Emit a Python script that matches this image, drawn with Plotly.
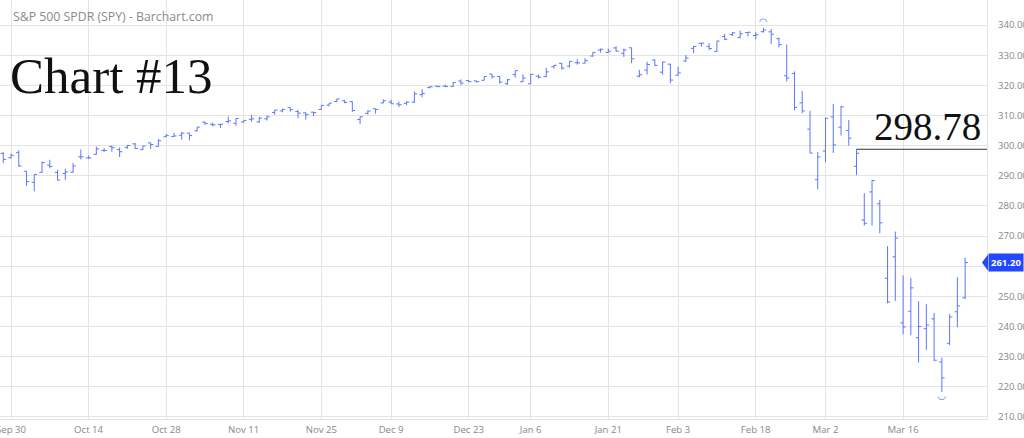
import plotly.graph_objects as go

dates = ["Sep 27", "Sep 30", "Oct 1", "Oct 2", "Oct 3", "Oct 4", "Oct 7", "Oct 8", "Oct 9", "Oct 10", "Oct 11",
         "Oct 14", "Oct 15", "Oct 16", "Oct 17", "Oct 18", "Oct 21", "Oct 22", "Oct 23", "Oct 24", "Oct 25",
         "Oct 28", "Oct 29", "Oct 30", "Oct 31", "Nov 1", "Nov 4", "Nov 5", "Nov 6", "Nov 7", "Nov 8",
         "Nov 11", "Nov 12", "Nov 13", "Nov 14", "Nov 15", "Nov 18", "Nov 19", "Nov 20", "Nov 21", "Nov 22",
         "Nov 25", "Nov 26", "Nov 27", "Nov 29", "Dec 2", "Dec 3", "Dec 4", "Dec 5", "Dec 6",
         "Dec 9", "Dec 10", "Dec 11", "Dec 12", "Dec 13", "Dec 16", "Dec 17", "Dec 18", "Dec 19", "Dec 20",
         "Dec 23", "Dec 24", "Dec 26", "Dec 27", "Dec 30", "Dec 31", "Jan 2", "Jan 3",
         "Jan 6", "Jan 7", "Jan 8", "Jan 9", "Jan 10", "Jan 13", "Jan 14", "Jan 15", "Jan 16", "Jan 17",
         "Jan 21", "Jan 22", "Jan 23", "Jan 24", "Jan 27", "Jan 28", "Jan 29", "Jan 30", "Jan 31",
         "Feb 3", "Feb 4", "Feb 5", "Feb 6", "Feb 7", "Feb 10", "Feb 11", "Feb 12", "Feb 13", "Feb 14",
         "Feb 18", "Feb 19", "Feb 20", "Feb 21", "Feb 24", "Feb 25", "Feb 26", "Feb 27", "Feb 28",
         "Mar 2", "Mar 3", "Mar 4", "Mar 5", "Mar 6", "Mar 9", "Mar 10", "Mar 11", "Mar 12", "Mar 13",
         "Mar 16", "Mar 17", "Mar 18", "Mar 19", "Mar 20", "Mar 23", "Mar 24", "Mar 25", "Mar 26"]

opens = [297.4, 295.97, 297.74, 291.50, 287.81, 291.14, 293.50, 291.11, 290.75, 291.18, 296.26,
         295.93, 297.10, 298.37, 299.68, 298.68, 299.42, 300.58, 298.73, 300.91, 299.74,
         302.94, 303.00, 303.43, 304.13, 304.92, 307.80, 307.06, 307.03, 307.99, 307.39,
         307.84, 308.75, 307.84, 308.90, 311.00, 311.52, 312.68, 311.29, 310.86, 311.09,
         311.98, 313.41, 314.61, 314.86, 314.59, 308.65, 310.70, 312.23, 314.12,
         314.44, 313.82, 314.03, 314.43, 316.90, 319.24, 319.73, 319.72, 319.58, 321.42,
         321.59, 321.47, 321.65, 323.74, 322.95, 320.53, 323.54, 321.16,
         320.49, 323.02, 322.94, 326.16, 327.29, 326.39, 327.47, 327.35, 329.71, 331.70,
         330.89, 332.40, 330.63, 332.44, 323.03, 325.06, 328.38, 324.36, 327.00,
         323.35, 328.07, 332.27, 333.91, 332.82, 331.23, 336.17, 336.83, 335.86, 337.51,
         336.51, 337.79, 337.74, 335.47, 323.14, 323.94, 314.18, 305.46, 288.70,
         298.21, 309.50, 306.12, 304.98, 293.15, 275.30, 284.64, 280.70, 256.00, 263.09,
         241.18, 245.04, 236.25, 239.25, 242.53, 228.19, 234.42, 244.87, 249.52]

highs = [297.9, 297.34, 298.46, 291.50, 290.45, 294.69, 295.29, 291.98, 292.30, 294.21, 298.74,
         296.67, 299.71, 299.17, 300.00, 299.40, 300.21, 300.90, 299.94, 300.99, 302.20,
         303.85, 304.23, 304.55, 304.13, 306.19, 308.00, 307.67, 307.20, 309.65, 309.00,
         308.38, 310.13, 309.54, 310.00, 311.84, 312.28, 312.69, 311.85, 311.00, 311.24,
         313.37, 314.06, 315.48, 315.13, 314.66, 309.64, 311.72, 312.25, 315.31,
         315.18, 314.55, 314.70, 317.99, 318.67, 319.81, 319.86, 320.25, 320.98, 321.97,
         321.65, 321.52, 322.95, 323.80, 323.10, 322.13, 324.89, 323.64,
         323.73, 323.54, 325.78, 326.73, 327.46, 327.96, 328.62, 329.02, 330.92, 332.18,
         332.18, 332.95, 332.16, 332.53, 325.12, 327.85, 328.63, 327.91, 327.17,
         326.16, 330.01, 333.09, 334.19, 333.99, 334.75, 337.02, 337.64, 338.12, 337.73,
         337.67, 339.08, 338.64, 335.81, 333.56, 324.60, 318.11, 311.56, 297.89,
         309.16, 313.84, 313.10, 308.47, 298.78, 284.19, 288.52, 281.94, 266.66, 271.48,
         256.90, 256.17, 248.37, 247.38, 244.47, 229.68, 244.10, 256.35, 262.80]

lows = [294.2, 295.72, 293.00, 286.64, 284.82, 290.87, 292.48, 288.51, 288.65, 291.00, 295.39,
        295.57, 296.97, 297.90, 297.93, 296.20, 298.94, 298.91, 298.50, 298.91, 299.68,
        302.91, 302.86, 301.99, 301.74, 304.75, 306.86, 306.34, 305.88, 307.32, 306.58,
        307.56, 307.88, 307.60, 308.31, 310.24, 311.04, 311.22, 309.06, 308.63, 309.85,
        311.98, 313.06, 314.37, 314.06, 311.17, 307.13, 310.32, 310.58, 314.11,
        313.80, 312.81, 313.44, 314.17, 316.02, 318.98, 319.36, 319.45, 319.52, 320.13,
        321.06, 320.90, 321.64, 322.28, 320.55, 320.15, 322.53, 321.10,
        320.36, 322.24, 322.67, 325.52, 325.20, 325.92, 326.84, 327.26, 329.45, 330.82,
        330.82, 331.17, 329.42, 327.36, 322.66, 323.60, 326.40, 323.54, 320.73,
        323.22, 327.72, 330.67, 332.80, 331.60, 331.19, 335.05, 336.35, 335.56, 336.20,
        335.21, 337.48, 333.68, 332.58, 321.27, 311.69, 310.70, 297.51, 285.54,
        294.46, 297.57, 303.33, 300.01, 290.23, 273.45, 273.46, 270.88, 247.68, 248.52,
        237.36, 237.07, 228.02, 232.22, 228.50, 218.26, 233.80, 239.75, 249.05]

closes = [295.40, 296.77, 293.24, 288.06, 290.42, 294.35, 293.08, 288.53, 291.27, 293.24, 296.28,
          295.95, 298.88, 298.40, 299.28, 297.97, 299.99, 299.01, 299.88, 300.37, 301.60,
          303.30, 303.21, 304.14, 303.33, 306.14, 307.37, 306.89, 307.10, 308.18, 309.00,
          308.35, 308.87, 309.10, 309.55, 311.79, 312.02, 311.93, 310.78, 310.27, 310.96,
          313.37, 314.08, 315.48, 314.31, 311.64, 309.55, 311.46, 312.02, 314.87,
          313.88, 313.53, 314.42, 317.13, 317.32, 319.50, 319.57, 319.59, 320.90, 320.73,
          321.22, 321.23, 322.94, 322.86, 321.08, 321.86, 324.87, 322.41,
          323.64, 322.73, 324.45, 326.65, 325.71, 327.95, 327.45, 328.19, 330.92, 331.95,
          331.30, 331.34, 331.72, 328.77, 323.50, 326.89, 326.62, 327.68, 321.73,
          324.12, 329.06, 332.86, 333.98, 332.20, 334.68, 335.26, 337.42, 337.06, 337.60,
          336.73, 338.34, 336.95, 333.48, 322.42, 312.65, 311.50, 297.51, 296.26,
          309.09, 300.24, 312.86, 302.46, 297.46, 274.23, 288.42, 274.36, 248.11, 269.32,
          239.85, 252.80, 240.00, 240.51, 228.80, 222.95, 243.15, 246.79, 261.20]

tick_labels = ["Sep 30", "Oct 14", "Oct 28", "Nov 11", "Nov 25", "Dec 9", "Dec 23",
               "Jan 6", "Jan 21", "Feb 3", "Feb 18", "Mar 2", "Mar 16"]
y_ticks = [210, 220, 230, 240, 250, 260, 270, 280, 290, 300, 310, 320, 330, 340]

marked_level_date = "Mar 6"
title_text = "S&P 500 SPDR (SPY) - Barchart.com"
chart_label = "Chart #13"

BAR = "#5a76ff"
LABEL_BG = "#2346ff"
x = list(range(len(dates)))
x_range = [-0.42, 126.82]
y_range = [209.3, 348.3]

fig = go.Figure()
fig.add_trace(go.Ohlc(
    x=x, open=opens, high=highs, low=lows, close=closes,
    increasing=dict(line=dict(color=BAR, width=1)),
    decreasing=dict(line=dict(color=BAR, width=1)),
    tickwidth=0.35, hoverinfo="skip", showlegend=False,
))

# high / low markers
i_hi = max(range(len(highs)), key=lambda i: highs[i])
i_lo = min(range(len(lows)), key=lambda i: lows[i])
fig.add_trace(go.Scatter(x=[x[i_hi]], y=[highs[i_hi]], mode="text", text=["◠"],
                         textposition="top center", textfont=dict(color=BAR, size=10, family="DejaVu Sans"),
                         showlegend=False, hoverinfo="skip"))
fig.add_trace(go.Scatter(x=[x[i_lo]], y=[lows[i_lo]], mode="text", text=["◡"],
                         textposition="bottom center", textfont=dict(color=BAR, size=10, family="DejaVu Sans"),
                         showlegend=False, hoverinfo="skip"))

# horizontal level line from marked bar's high
i_lv = dates.index(marked_level_date)
level = highs[i_lv]
fig.add_trace(go.Scatter(x=[x[i_lv], x_range[1]], y=[level, level], mode="lines",
                         line=dict(color="#333333", width=1), showlegend=False, hoverinfo="skip"))

fig.add_annotation(x=(x[i_lv] + x_range[1]) / 2 + 0.8, y=level, xref="x", yref="y",
                   text=f"{level:.2f}", showarrow=False, yanchor="bottom", yshift=-1,
                   font=dict(family="Liberation Serif", size=39, color="#111111"))

fig.add_annotation(x=8 / 987, y=1 - 76 / 419, xref="paper", yref="paper", xanchor="left", yanchor="middle",
                   text=chart_label, showarrow=False,
                   font=dict(family="Liberation Serif", size=51, color="#111111"))

fig.add_annotation(x=11 / 987, y=1 - 16 / 419, xref="paper", yref="paper", xanchor="left", yanchor="middle",
                   text=title_text, showarrow=False,
                   font=dict(family="Open Sans", size=12.3, color="#8a8a8a"))

# last price label
last = closes[-1]
fig.add_annotation(x=1 + 1 / 987, y=last, xref="paper", yref="y", xanchor="left", yanchor="middle",
                   text=f"<b>{last:.2f}</b>", showarrow=False, bgcolor=LABEL_BG, borderpad=2,
                   font=dict(family="Open Sans", size=9.5, color="white"))
fig.add_shape(type="path", xref="paper", yref="y", layer="above",
              path=f"M {1 - 5/987} {last} L {1 + 1/987} {last + 2.7} L {1 + 1/987} {last - 2.7} Z",
              fillcolor=LABEL_BG, line=dict(width=0))

# hide the y tick label covered by the last-price label
y_text = ["" if abs(v - last) < 5 else f"{v:.2f}" for v in y_ticks]

tick_pos = [x[dates.index(t)] for t in tick_labels]
fig.update_layout(
    width=1024, height=438,
    margin=dict(l=0, r=37, t=0, b=19, autoexpand=False),
    paper_bgcolor="white", plot_bgcolor="white",
    font=dict(family="Open Sans", size=10, color="#888888"),
    xaxis=dict(range=x_range, tickvals=tick_pos, ticktext=tick_labels, showgrid=True,
               gridcolor="#e4e4e4", gridwidth=1, zeroline=False, rangeslider=dict(visible=False),
               showline=True, linecolor="#e4e4e4", ticks="", ticklabeloverflow="allow",
               automargin=False, ticklabelstandoff=1, tickfont=dict(size=9.6, color="#888888")),
    yaxis=dict(range=y_range, side="right", tickvals=y_ticks, ticktext=y_text, showgrid=True,
               gridcolor="#e4e4e4", gridwidth=1, zeroline=False, showline=True, linecolor="#e4e4e4",
               ticks="", ticklabelstandoff=8, ticklabeloverflow="allow", automargin=False,
               tickfont=dict(size=9.6, color="#888888")),
)

fig.write_html("out.html", config={"displayModeBar": False},
               post_script="document.body.style.margin='0';document.body.style.overflow='hidden';")
